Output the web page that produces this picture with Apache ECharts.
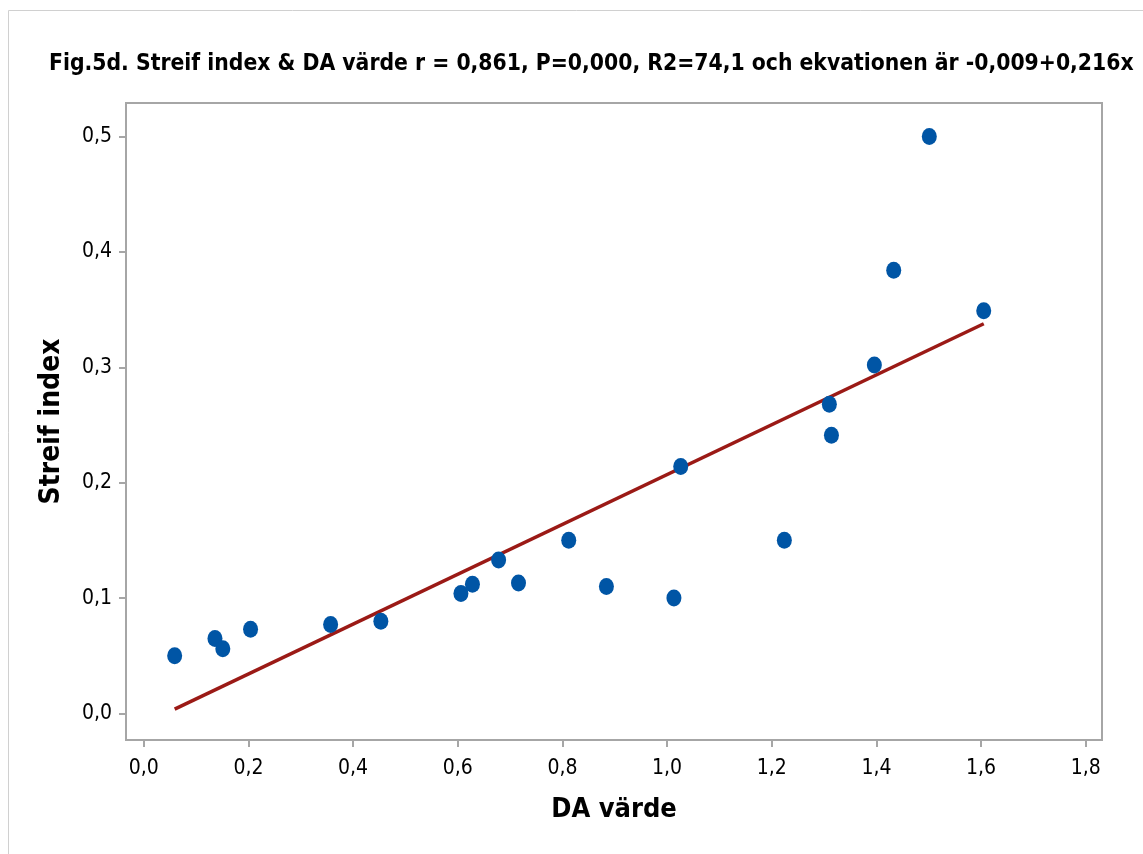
<!DOCTYPE html>
<html><head><meta charset="utf-8">
<script src="https://cdn.jsdelivr.net/npm/echarts@6/dist/echarts.min.js"></script>
<style>html,body{margin:0;padding:0;background:#fff}#c{width:1143px;height:854px}</style>
</head><body><div id="c"></div>
<script>
const daVarde = [0.059,0.136,0.151,0.204,0.357,0.453,0.606,0.628,0.678,0.716,0.812,0.884,1.013,1.026,1.224,1.310,1.314,1.396,1.433,1.501,1.605];
const streifIndex = [0.050,0.065,0.056,0.073,0.077,0.080,0.104,0.112,0.133,0.113,0.150,0.110,0.100,0.214,0.150,0.268,0.241,0.302,0.384,0.500,0.349];
const intercept = -0.009;
const slope = 0.216;
const titleText = 'Fig.5d. Streif index & DA värde r = 0,861, P=0,000, R2=74,1 och ekvationen är -0,009+0,216x';

const pts = daVarde.map((x,i)=>[x, streifIndex[i]]);
const xMin = Math.min(...daVarde), xMax = Math.max(...daVarde);
const fit = [[xMin, intercept + slope*xMin],[xMax, intercept + slope*xMax]];
const fmt = v => v.toFixed(1).replace('.', ',');
const FONT = 'DejaVu Sans Condensed';

const chart = echarts.init(document.getElementById('c'));
chart.setOption({
  animation:false,
  backgroundColor:'#fff',
  graphic:[{type:'rect',shape:{x:8.5,y:10.5,width:1145,height:850},style:{fill:'none',stroke:'#d0d0d0',lineWidth:1}}],
  title:{text:titleText,left:44,top:48,textStyle:{fontFamily:FONT,fontWeight:'bold',fontSize:22.7,color:'#000'}},
  grid:{left:126,right:41,top:103,bottom:114,show:true,borderColor:'#a6a6a6',borderWidth:2},
  xAxis:{type:'value',min:-0.034,max:1.831,interval:0.2,
    name:'DA värde',nameLocation:'middle',nameGap:56,
    nameTextStyle:{fontFamily:FONT,fontWeight:'bold',fontSize:27,color:'#000'},
    axisLine:{show:true,onZero:false,lineStyle:{color:'#a6a6a6',width:2}},
    axisTick:{show:true,length:7,lineStyle:{color:'#a6a6a6',width:2},customValues:[0,0.2,0.4,0.6,0.8,1.0,1.2,1.4,1.6,1.8]},
    axisLabel:{fontFamily:FONT,fontSize:21,color:'#000',margin:18,formatter:fmt,customValues:[0,0.2,0.4,0.6,0.8,1.0,1.2,1.4,1.6,1.8]},
    splitLine:{show:false}},
  yAxis:{type:'value',min:-0.023,max:0.529,
    name:'Streif index',nameLocation:'middle',nameGap:60,
    nameTextStyle:{fontFamily:FONT,fontWeight:'bold',fontSize:28,color:'#000'},
    axisLine:{show:true,onZero:false,lineStyle:{color:'#a6a6a6',width:2}},
    axisTick:{show:true,length:7,lineStyle:{color:'#a6a6a6',width:2},customValues:[0,0.1,0.2,0.3,0.4,0.5]},
    axisLabel:{fontFamily:FONT,fontSize:21,color:'#000',margin:14,formatter:fmt,customValues:[0,0.1,0.2,0.3,0.4,0.5]},
    splitLine:{show:false}},
  series:[
    {type:'line',data:fit,symbol:'none',lineStyle:{color:'#9b1a16',width:3.5},z:2},
    {type:'scatter',data:pts,symbol:'circle',symbolSize:[15,17],itemStyle:{color:'#0055a5',opacity:1},z:3}
  ]
});
</script></body></html>
